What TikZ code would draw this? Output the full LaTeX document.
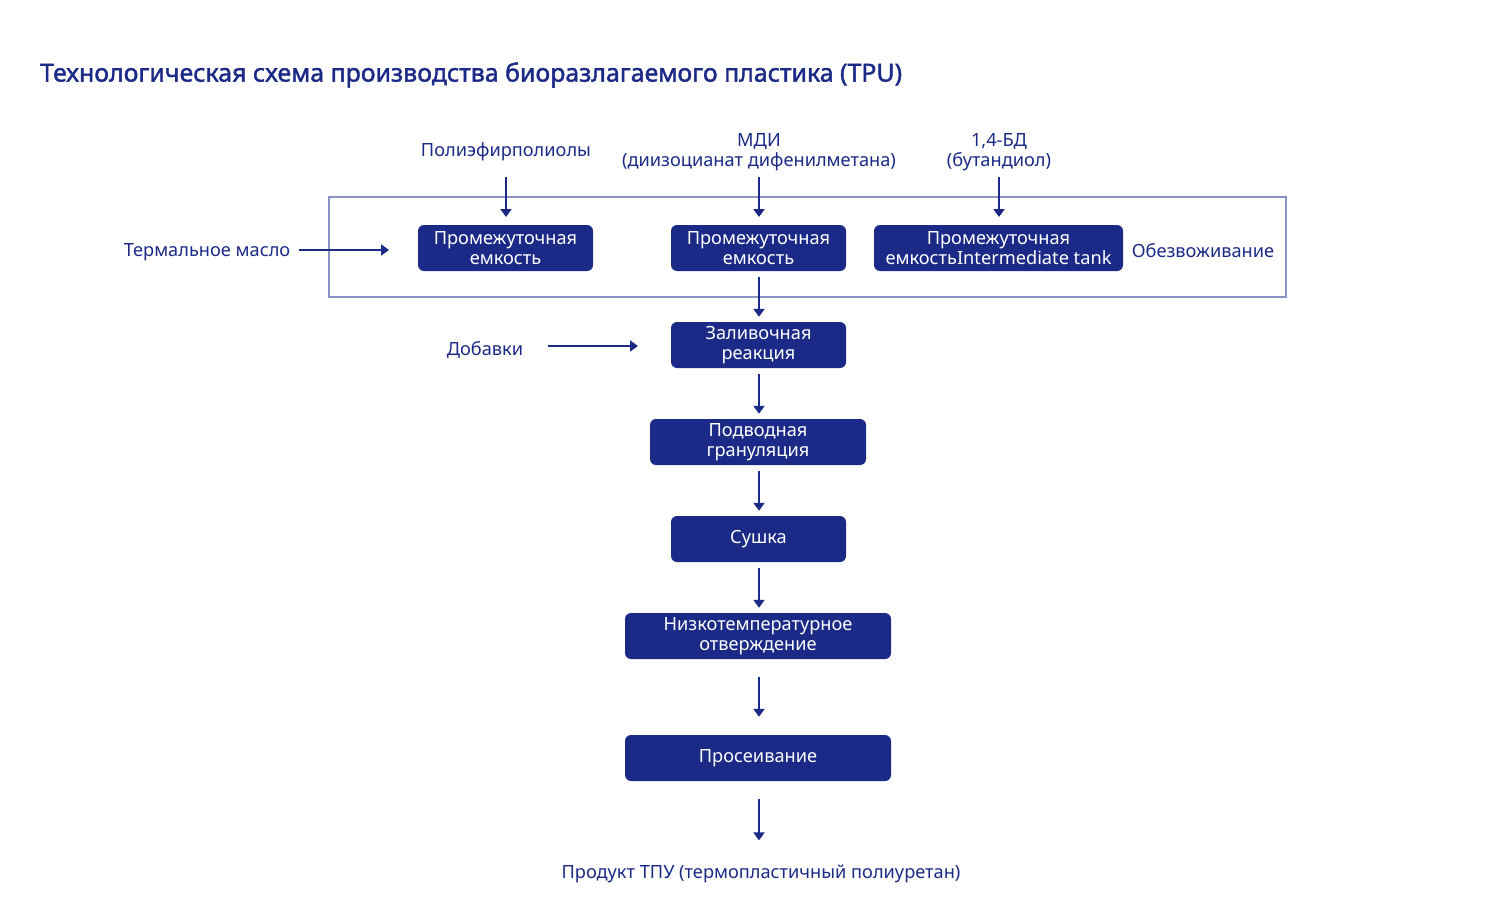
\documentclass[tikz,border=0pt]{standalone}
\usepackage{fontspec}
\setmainfont{Noto Sans}
\newfontfamily\titlefont{Noto Sans}[FakeBold=1.6]
\usetikzlibrary{arrows.meta}
\definecolor{navy}{HTML}{1B2A87}
\definecolor{frameblue}{HTML}{8A92C6}
\tikzset{
  proc/.style={draw=none, fill=navy, rounded corners=6pt, minimum height=46pt, text=white, align=center, font=\fontsize{18.2}{20}\selectfont, inner sep=0pt},
  lbl/.style={text=navy, align=center, font=\fontsize{18.2}{20}\selectfont, inner sep=0pt},
  flow/.style={draw=navy, line width=2pt, -{Triangle[width=11pt,length=8pt]}},
}
\begin{document}
\begin{tikzpicture}[x=1pt,y=-1pt]
\useasboundingbox (0,0) rectangle (1485,913);
% title
\node[anchor=west, text=navy, inner sep=0pt, font=\fontsize{24.9}{28}\titlefont] (title) at (40,75) {Технологическая схема производства биоразлагаемого пластика (TPU)};
% frame
\node[draw=frameblue, line width=1.5pt, minimum width=957pt, minimum height=100pt, inner sep=0pt] (frame) at (807.5,247) {};
% inputs
\node[lbl] (poly) at (506,152) {Полиэфирполиолы};
\node[lbl] (mdi) at (759,152) {МДИ\\(диизоцианат дифенилметана)};
\node[lbl] (bd) at (999,152) {1,4-БД\\(бутандиол)};
\node[lbl] (oil) at (207,252.5) {Термальное масло};
\node[lbl] (dehyd) at (1203,250.5) {Обезвоживание};
\node[lbl] (add) at (485,349.5) {Добавки};
% boxes
\node[proc, minimum width=175pt] (t1) at (505.5,248) {Промежуточная\\емкость};
\node[proc, minimum width=175pt] (t2) at (758.5,248) {Промежуточная\\емкость};
\node[proc, minimum width=249pt] (t3) at (998.5,248) {Промежуточная\\емкостьIntermediate tank};
\node[proc, minimum width=175pt] (pour) at (758.5,345) {Заливочная\\реакция};
\node[proc, minimum width=216pt] (gran) at (758,442) {Подводная\\грануляция};
\node[proc, minimum width=175pt] (dry) at (758.5,539) {Сушка};
\node[proc, minimum width=266pt] (cure) at (758,636) {Низкотемпературное\\отверждение};
\node[proc, minimum width=266pt] (sieve) at (758,758) {Просеивание};
\node[lbl] (prod) at (761,873.5) {Продукт ТПУ (термопластичный полиуретан)};
% coordinates for free ends
\coordinate (p1s) at (506,177); \coordinate (p1e) at (506,217);
\coordinate (p2s) at (759,177); \coordinate (p2e) at (759,217);
\coordinate (p3s) at (999,177); \coordinate (p3e) at (999,217);
\coordinate (os) at (299,250); \coordinate (oe) at (389,250);
\coordinate (as) at (548,346); \coordinate (ae) at (638,346);
% arrows
\draw[flow] (p1s) -- (p1e);
\draw[flow] (p2s) -- (p2e);
\draw[flow] (p3s) -- (p3e);
\draw[flow] (os) -- (oe);
\draw[flow] (as) -- (ae);
\draw[flow, shorten <=6pt, shorten >=5pt] (t2.south -| 759,0) -- (pour.north -| 759,0);
\draw[flow, shorten <=6pt, shorten >=5pt] (pour.south -| 759,0) -- (gran.north -| 759,0);
\draw[flow, shorten <=6pt, shorten >=5pt] (gran.south -| 759,0) -- (dry.north -| 759,0);
\draw[flow, shorten <=6pt, shorten >=5pt] (dry.south -| 759,0) -- (cure.north -| 759,0);
\draw[flow, shorten <=18pt, shorten >=18pt] (cure.south -| 759,0) -- (sieve.north -| 759,0);
\draw[flow, shorten <=18pt, shorten >=24pt] (sieve.south -| 759,0) -- (prod.north -| 759,0);
\end{tikzpicture}
\end{document}
